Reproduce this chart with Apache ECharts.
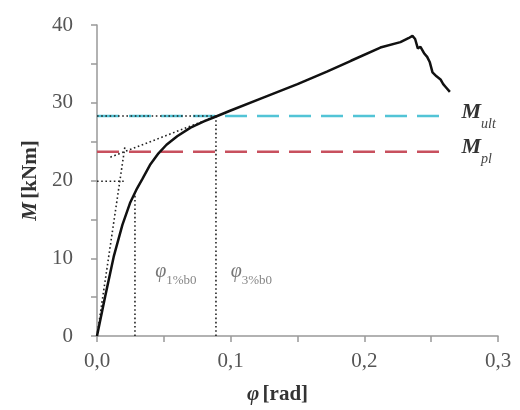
<!DOCTYPE html>
<html>
<head>
<meta charset="utf-8">
<script src="https://cdn.jsdelivr.net/npm/echarts@6/dist/echarts.min.js"></script>
<style>
  html, body { margin: 0; padding: 0; background: #fff; }
  #chart { width: 520px; height: 410px; }
</style>
</head>
<body>
<div id="chart"></div>
<script>
// Moment–rotation curve of the connection
const phi = [0, 0.006, 0.0125, 0.019, 0.0247, 0.030, 0.034, 0.040, 0.046, 0.052, 0.060, 0.070, 0.080, 0.090, 0.100,
  0.122, 0.150, 0.172, 0.190, 0.212, 0.227, 0.233, 0.236, 0.238, 0.240, 0.242, 0.245, 0.247, 0.249, 0.251, 0.254, 0.257, 0.259, 0.261, 0.264];
const moment = [0, 5.0, 10.2, 14.3, 17.1, 19.0, 20.2, 22.1, 23.5, 24.6, 25.7, 26.8, 27.6, 28.3, 29.0,
  30.5, 32.4, 34.0, 35.4, 37.1, 37.8, 38.3, 38.6, 38.2, 37.0, 37.2, 36.3, 35.9, 35.2, 33.9, 33.4, 33.0, 32.4, 32.0, 31.4];

// Characteristic moments [kNm] and the rotation span they are drawn over
const mUlt = 28.3;
const mPl = 23.7;
const levelSpan = [0, 0.263];

// Rotations at 1 % and 3 % of b0 [rad]
const phi1 = 0.0284;
const phi3 = 0.089;

// Bilinear construction lines (dotted)
const initialStiffness = [[0, 0], [0.021, 24.5]];
const secondSlope = [[0.010, 23.0], [0.088, 28.2]];
const yieldLevel = [[0, 19.9], [0.020, 19.9]];
const phi1Guide = [[phi1, 0], [phi1, 18.5]];
const phi3Guide = [[phi3, 0], [phi3, mUlt]];
const ultGuide = [[0, mUlt], [phi3, mUlt]];

// Rotation-limit labels
const phiLabels = [
  { x: 0.0435, y: 7.9, sub: '1%b0' },
  { x: 0.1000, y: 7.9, sub: '3%b0' }
];

const serif = '"Liberation Serif", "DejaVu Serif", serif';
const zip = (xs, ys) => xs.map((x, i) => [x, ys[i]]);

function dotted(data) {
  return {
    type: 'line', data: data, showSymbol: false, silent: true, z: 3,
    lineStyle: { color: '#222', width: 1.6, type: [1.6, 2.6] }
  };
}

function level(value, color, sub) {
  return {
    type: 'line', showSymbol: false, silent: true, z: 2,
    data: levelSpan.map(x => [x, value]),
    lineStyle: { color: color, width: 2.5, type: [22, 10] },
    endLabel: {
      show: true, distance: 13,
      formatter: '{m|M}{s|' + sub + '}',
      rich: {
        m: { fontFamily: serif, fontStyle: 'italic', fontWeight: 'bold', fontSize: 22, color: '#333', verticalAlign: 'top', lineHeight: 26 },
        s: { fontFamily: serif, fontStyle: 'italic', fontSize: 14, color: '#444', verticalAlign: 'bottom', lineHeight: 30 }
      }
    }
  };
}

const chart = echarts.init(document.getElementById('chart'));
chart.setOption({
  animation: false,
  backgroundColor: '#fff',
  grid: { left: 97, right: 22, top: 25, bottom: 70 },
  xAxis: {
    type: 'value', min: 0, max: 0.3, interval: 0.05,
    name: '{i|φ} {b|[rad]}', nameLocation: 'middle', nameGap: 48,
    nameTextStyle: {
      padding: [0, 40, 0, 0],
      rich: {
        i: { fontFamily: serif, fontStyle: 'italic', fontWeight: 'bold', fontSize: 21, color: '#333' },
        b: { fontFamily: serif, fontWeight: 'bold', fontSize: 21, color: '#333' }
      }
    },
    axisLine: { lineStyle: { color: '#999', width: 1.5 } },
    axisTick: { length: 6, lineStyle: { color: '#999', width: 1.5 } },
    axisLabel: {
      margin: 15, fontFamily: serif, fontSize: 21, color: '#555',
      formatter: v => (Math.round(v * 100) % 10 === 0 ? v.toFixed(1).replace('.', ',') : '')
    },
    splitLine: { show: false }
  },
  yAxis: {
    type: 'value', min: 0, max: 40, interval: 5,
    name: '{i|M} {b|[kNm]}', nameLocation: 'middle', nameGap: 56,
    nameTextStyle: {
      rich: {
        i: { fontFamily: serif, fontStyle: 'italic', fontWeight: 'bold', fontSize: 21, color: '#333' },
        b: { fontFamily: serif, fontWeight: 'bold', fontSize: 21, color: '#333' }
      }
    },
    axisLine: { show: true, lineStyle: { color: '#999', width: 1.5 } },
    axisTick: { show: true, length: 6, lineStyle: { color: '#999', width: 1.5 } },
    axisLabel: {
      margin: 24, fontFamily: serif, fontSize: 21, color: '#555',
      formatter: v => (v % 10 === 0 ? String(v) : '')
    },
    splitLine: { show: false }
  },
  series: [
    level(mUlt, '#52c4d6', 'ult'),
    level(mPl, '#c8505e', 'pl'),
    dotted(initialStiffness),
    dotted(secondSlope),
    dotted(yieldLevel),
    dotted(phi1Guide),
    dotted(phi3Guide),
    dotted(ultGuide),
    {
      type: 'scatter', symbolSize: 0, silent: true, z: 4,
      data: phiLabels.map(p => ({ value: [p.x, p.y], sub: p.sub })),
      label: {
        show: true, position: 'right', distance: 0,
        formatter: p => '{p|φ}{s|' + p.data.sub + '}',
        rich: {
          p: { fontFamily: serif, fontStyle: 'italic', fontSize: 20, color: '#555', verticalAlign: 'top', lineHeight: 24 },
          s: { fontFamily: serif, fontSize: 13, color: '#666', verticalAlign: 'bottom', lineHeight: 26 }
        }
      }
    },
    {
      type: 'line', data: zip(phi, moment), showSymbol: false, silent: true, z: 5,
      lineStyle: { color: '#111', width: 2.5 }
    }
  ]
});
</script>
</body>
</html>
